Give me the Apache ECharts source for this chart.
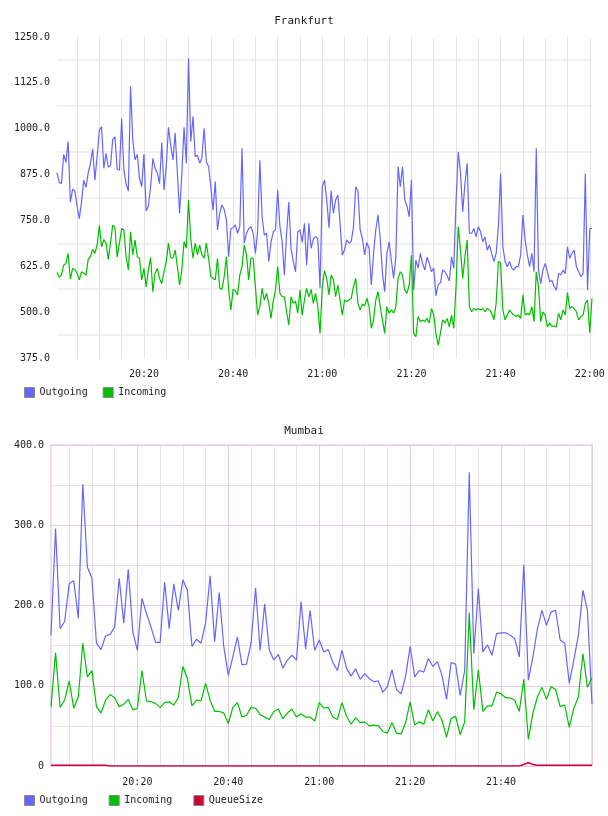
<!DOCTYPE html>
<html>
<head>
<meta charset="utf-8">
<title>Frankfurt / Mumbai</title>
<script src="https://cdn.jsdelivr.net/npm/echarts@6/dist/echarts.min.js"></script>
<style>
    html, body { margin: 0; padding: 0; background: #fff; }
    #chart { width: 608px; height: 816px; }
</style>
</head>
<body>
<div id="chart"></div>
<script>
// Frankfurt: one sample every 30 s, 20:00:30 .. 22:00:30
var frankfurtOutgoing = [
    880, 853, 851, 930, 908, 965, 800, 835, 830, 790,
    755, 800, 860, 840, 880, 905, 945, 860, 925, 997,
    1005, 892, 933, 895, 900, 971, 978, 890, 887, 1028,
    887, 850, 830, 1116, 969, 915, 930, 865, 842, 931,
    776, 790, 842, 919, 892, 880, 850, 962, 833, 897,
    1004, 955, 915, 988, 880, 769, 878, 1004, 906, 1192,
    965, 1033, 924, 928, 906, 920, 1001, 910, 897, 842,
    778, 856, 724, 770, 792, 780, 751, 651, 728, 730,
    738, 715, 733, 947, 688, 715, 728, 733, 715, 660,
    720, 913, 760, 710, 715, 638, 690, 719, 725, 833,
    733, 692, 601, 715, 800, 674, 638, 610, 719, 724,
    690, 742, 628, 742, 674, 700, 706, 700, 565, 842,
    860, 806, 730, 831, 769, 806, 819, 740, 656, 670,
    697, 688, 693, 733, 842, 830, 724, 700, 656, 690,
    674, 574, 660, 724, 765, 700, 605, 556, 660, 692,
    640, 592, 650, 897, 842, 897, 806, 790, 760, 860,
    560, 642, 620, 660, 633, 615, 650, 633, 610, 620,
    545, 575, 580, 615, 610, 600, 585, 651, 620, 800,
    937, 880, 774, 850, 906, 715, 715, 728, 705, 733,
    719, 692, 705, 669, 683, 660, 638, 660, 733, 878,
    680, 638, 624, 638, 620, 615, 624, 624, 656, 765,
    697, 656, 624, 660, 610, 947, 615, 578, 615, 633,
    610, 583, 587, 570, 560, 605, 601, 615, 605, 678,
    647, 660, 669, 624, 610, 597, 605, 878, 560, 728,
    728
];
var frankfurtIncoming = [
    608, 595, 601, 628, 633, 660, 590, 619, 617, 606,
    588, 610, 606, 601, 644, 651, 671, 660, 683, 737,
    678, 698, 688, 644, 688, 737, 731, 650, 688, 728,
    724, 651, 615, 719, 656, 697, 651, 647, 588, 619,
    569, 615, 649, 556, 606, 619, 592, 578, 610, 637,
    688, 649, 647, 669, 624, 574, 615, 692, 674, 806,
    700, 647, 688, 656, 683, 656, 647, 688, 647, 597,
    592, 588, 647, 565, 562, 597, 651, 562, 506, 562,
    558, 547, 601, 624, 683, 656, 588, 647, 647, 569,
    492, 515, 565, 533, 551, 524, 483, 530, 560, 624,
    551, 542, 542, 501, 465, 542, 524, 530, 497, 560,
    492, 533, 565, 542, 562, 524, 551, 515, 442, 569,
    613, 592, 547, 601, 588, 542, 574, 533, 492, 533,
    529, 533, 538, 569, 592, 524, 506, 522, 517, 538,
    515, 456, 479, 533, 556, 515, 479, 442, 515, 497,
    506, 497, 515, 592, 610, 601, 560, 551, 574, 655,
    442, 433, 488, 474, 479, 474, 483, 470, 510, 492,
    442, 410, 442, 479, 470, 483, 460, 492, 456, 569,
    733, 669, 592, 651, 697, 515, 501, 510, 506, 510,
    506, 510, 501, 510, 506, 497, 479, 524, 638, 633,
    506, 479, 492, 506, 497, 492, 488, 492, 483, 547,
    492, 497, 492, 515, 474, 610, 569, 474, 501, 492,
    460, 470, 462, 462, 460, 497, 479, 506, 492, 553,
    510, 515, 510, 501, 479, 488, 492, 524, 533, 444,
    538
];

// Mumbai: one sample per minute, 20:01 .. 22:00
var mumbaiOutgoing = [
    163, 296, 171, 180, 227, 231, 184, 351, 248, 234,
    153, 145, 162, 164, 173, 234, 178, 245, 167, 144,
    209, 190, 173, 154, 154, 229, 171, 227, 194, 232,
    219, 149, 158, 153, 178, 237, 155, 216, 149, 113,
    136, 161, 126, 127, 153, 222, 144, 202, 145, 132,
    139, 122, 132, 138, 132, 205, 146, 194, 144, 157,
    142, 145, 129, 119, 144, 122, 112, 121, 108, 115,
    109, 105, 106, 92, 99, 120, 95, 90, 112, 149,
    111, 119, 117, 134, 124, 130, 113, 83, 129, 127,
    88, 119, 366, 140, 221, 142, 151, 138, 165, 166,
    166, 163, 159, 136, 251, 107, 136, 171, 194, 175,
    192, 194, 157, 153, 103, 132, 163, 219, 194, 77
];
var mumbaiIncoming = [
    74, 141, 73, 82, 106, 72, 86, 153, 111, 119,
    74, 66, 82, 89, 85, 74, 77, 83, 70, 72,
    119, 81, 80, 78, 73, 79, 80, 76, 85, 124,
    109, 75, 82, 81, 103, 82, 68, 68, 66, 53,
    73, 79, 61, 63, 73, 72, 64, 61, 58, 68,
    71, 59, 66, 71, 61, 65, 61, 61, 56, 79,
    72, 73, 61, 58, 79, 62, 52, 60, 54, 55,
    50, 51, 50, 43, 41, 54, 41, 40, 54, 80,
    51, 55, 52, 70, 56, 68, 57, 36, 59, 62,
    39, 55, 191, 70, 120, 68, 75, 75, 92, 90,
    85, 85, 82, 68, 108, 33, 66, 86, 98, 83,
    99, 95, 74, 76, 48, 72, 86, 140, 98, 110
];
var mumbaiQueue = [
    1, 1, 1, 1, 1, 1, 1, 1, 1, 1,
    1, 1, 1, 0, 0, 0, 0, 0, 0, 0,
    0, 0, 0, 0, 0, 0, 0, 0, 0, 0,
    0, 0, 0, 0, 0, 0, 0, 0, 0, 0,
    0, 0, 0, 0, 0, 0, 0, 0, 0, 0,
    0, 0, 0, 0, 0, 0, 0, 0, 0, 0,
    0, 0, 0, 0, 0, 0, 0, 0, 0, 0,
    0, 0, 0, 0, 0, 0, 0, 0, 0, 0,
    0, 0, 0, 0, 0, 0, 0, 0, 0, 0,
    0, 0, 0, 0, 0, 0, 0, 0, 0, 0,
    0, 0, 0, 0, 2, 4, 2, 1, 1, 1,
    1, 1, 1, 1, 1, 1, 1, 1, 1, 1
];

var seriesNames = ['Outgoing', 'Incoming', 'QueueSize'];
var colors = ['#6666ff', '#00c000', '#cc0033'];

function pad(n) { return n < 10 ? '0' + n : '' + n; }
function clock(sec) {
    var h = 20 + Math.floor(sec / 3600);
    var m = Math.floor((sec % 3600) / 60);
    return h + ':' + pad(m) + ':' + pad(sec % 60);
}

// category labels (time of each sample)
var frankfurtTimes = [];
for (var i = 0; i < frankfurtOutgoing.length; i++) frankfurtTimes.push(clock(30 + 30 * i));
var mumbaiTimes = [];
for (var j = 0; j < mumbaiOutgoing.length; j++) mumbaiTimes.push(clock(60 + 60 * j));

function isFiveMin(t) { return t.slice(-2) === '00' && +t.split(':')[1] % 5 === 0; }
function isTwentyMin(t) { return t.slice(-2) === '00' && +t.split(':')[1] % 20 === 0; }

var font = 'DejaVu Sans Mono';
var txt = { fontFamily: font, fontSize: 10, color: '#222' };

var myChart = echarts.init(document.getElementById('chart'));

var option = {
    animation: false,
    backgroundColor: '#fff',
    title: [
        { text: 'Frankfurt', left: 'center', top: 11, textStyle: { fontFamily: font, fontSize: 11, fontWeight: 'normal', color: '#222' } },
        { text: 'Mumbai', left: 'center', top: 421, textStyle: { fontFamily: font, fontSize: 11, fontWeight: 'normal', color: '#222' } }
    ],
    legend: [
        {
            left: 24, top: 387, padding: 0, icon: 'rect', itemWidth: 10, itemHeight: 10, itemGap: 15,
            itemStyle: { borderColor: '#888', borderWidth: 1 },
            textStyle: txt,
            data: seriesNames.slice(0, 2)
        },
        {
            left: 24, top: 795, padding: 0, icon: 'rect', itemWidth: 10, itemHeight: 10, itemGap: 21,
            itemStyle: { borderColor: '#888', borderWidth: 1 },
            textStyle: txt,
            data: seriesNames
        }
    ],
    grid: [
        { left: 57, top: 37, width: 535, height: 321 },
        { left: 51, top: 445, width: 541, height: 321, show: true, borderColor: '#f0dcf0', borderWidth: 2 }
    ],
    xAxis: [
        {
            type: 'category', gridIndex: 0, data: frankfurtTimes, boundaryGap: false,
            axisLine: { show: false }, axisTick: { show: false },
            axisLabel: Object.assign({
                margin: 11,
                interval: function (idx, val) { return isTwentyMin(val); },
                formatter: function (val) { return val.slice(0, 5); }
            }, txt),
            splitLine: {
                show: true,
                interval: function (idx, val) { return isFiveMin(val); },
                lineStyle: { color: '#e4e4e4', width: 1 }
            }
        },
        {
            type: 'category', gridIndex: 1, data: mumbaiTimes, boundaryGap: false,
            axisLine: { show: false }, axisTick: { show: false },
            axisLabel: Object.assign({
                margin: 11,
                interval: function (idx, val) { return isTwentyMin(val) && idx < mumbaiTimes.length - 1; },
                formatter: function (val) { return val.slice(0, 5); }
            }, txt),
            splitLine: {
                show: true,
                interval: function (idx, val) { return isFiveMin(val); },
                lineStyle: { color: ['#e6e2e6', '#e6e2e6', '#e6e2e6', '#e4c8e4'], width: 1 }
            }
        }
    ],
    yAxis: [
        {
            type: 'value', gridIndex: 0, min: 375, max: 1250, interval: 62.5,
            axisLine: { show: false }, axisTick: { show: false },
            axisLabel: Object.assign({
                margin: 7,
                formatter: function (v) { return v % 125 === 0 ? v.toFixed(1) : ''; }
            }, txt),
            splitLine: { show: true, lineStyle: { color: ['rgba(0,0,0,0)', '#ececec'], width: 1.5 } }
        },
        {
            type: 'value', gridIndex: 1, min: 0, max: 400, interval: 50,
            axisLine: { show: false }, axisTick: { show: false },
            axisLabel: Object.assign({
                margin: 7,
                formatter: function (v) { return v % 100 === 0 ? (v === 0 ? '0' : v.toFixed(1)) : ''; }
            }, txt),
            splitLine: { show: true, lineStyle: { color: ['#e8cce8', '#e6e2e6'], width: 1 } }
        }
    ],
    series: [
        {
            name: 'Outgoing', type: 'line', xAxisIndex: 0, yAxisIndex: 0,
            data: frankfurtOutgoing, showSymbol: false, symbol: 'none',
            lineStyle: { color: colors[0], width: 1.2 }, itemStyle: { color: colors[0] }
        },
        {
            name: 'Incoming', type: 'line', xAxisIndex: 0, yAxisIndex: 0,
            data: frankfurtIncoming, showSymbol: false, symbol: 'none',
            lineStyle: { color: colors[1], width: 1.2 }, itemStyle: { color: colors[1] }
        },
        {
            name: 'Outgoing', type: 'line', xAxisIndex: 1, yAxisIndex: 1,
            data: mumbaiOutgoing, showSymbol: false, symbol: 'none',
            lineStyle: { color: colors[0], width: 1.2 }, itemStyle: { color: colors[0] }
        },
        {
            name: 'Incoming', type: 'line', xAxisIndex: 1, yAxisIndex: 1,
            data: mumbaiIncoming, showSymbol: false, symbol: 'none',
            lineStyle: { color: colors[1], width: 1.2 }, itemStyle: { color: colors[1] }
        },
        {
            name: 'QueueSize', type: 'line', xAxisIndex: 1, yAxisIndex: 1,
            data: mumbaiQueue, showSymbol: false, symbol: 'none',
            lineStyle: { color: colors[2], width: 1.5 }, itemStyle: { color: colors[2] }
        }
    ]
};
myChart.setOption(option);
</script>
</body>
</html>
